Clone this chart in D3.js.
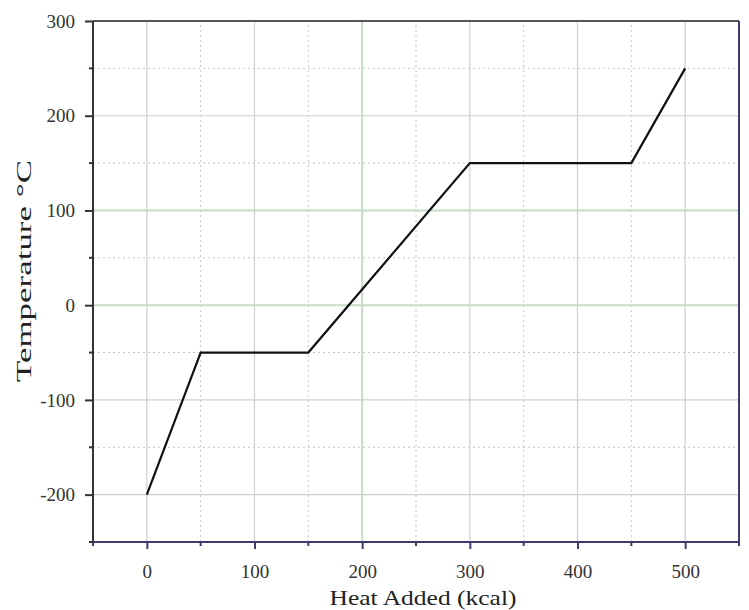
<!DOCTYPE html>
<html><head><meta charset="utf-8">
<script src="https://cdn.jsdelivr.net/npm/d3@7"></script>
<style>body{margin:0;background:#fff;}svg{display:block;}</style>
</head><body>
<script>
const heat = [0, 50, 150, 300, 450, 500];
const temp = [-200, -50, -50, 150, 150, 250];
const xMajor = [0, 100, 200, 300, 400, 500];
const xMinor = [-50, 50, 150, 250, 350, 450, 550];
const yMajor = [-200, -100, 0, 100, 200, 300];
const yMinor = [-250, -150, -50, 50, 150, 250];
const xTitle = "Heat Added (kcal)";
const yTitle = "Temperature °C";

const FONT = "'Liberation Serif','Times New Roman',serif";
const W = 749, H = 610;
const m = {l: 93, r: 10, t: 21, b: 68};
const svg = d3.select("body").append("svg").attr("width", W).attr("height", H).attr("font-family", FONT);
const x = d3.scaleLinear().domain([-50, 550]).range([m.l, W - m.r]);
const y = d3.scaleLinear().domain([-250, 300]).range([H - m.b, m.t]);

const g = svg.append("g");
const greenY = new Set([0, 100]);
const greenX = new Set([200]);
// minor dotted grid
g.selectAll(".vmin").data(xMinor.filter(d => d > -50 && d < 550)).join("line")
  .attr("x1", d => x(d)).attr("x2", d => x(d)).attr("y1", y(-250)).attr("y2", y(300))
  .attr("stroke", d => d === 450 ? "#b8d8b8" : "#c4c4c4").attr("stroke-width", 1).attr("stroke-dasharray", "2,3");
g.selectAll(".hmin").data(yMinor.filter(d => d > -250)).join("line")
  .attr("x1", x(-50)).attr("x2", x(550)).attr("y1", d => y(d)).attr("y2", d => y(d))
  .attr("stroke", d => d === 250 ? "#b8d8b8" : "#c4c4c4").attr("stroke-width", 1).attr("stroke-dasharray", "2,3");
// major grid
g.selectAll(".vmaj").data(xMajor).join("line")
  .attr("x1", d => x(d)).attr("x2", d => x(d)).attr("y1", y(-250)).attr("y2", y(300))
  .attr("stroke", d => greenX.has(d) ? "#c6dcc6" : "#cfcfcf").attr("stroke-width", d => greenX.has(d) ? 2 : 1.2);
g.selectAll(".hmaj").data(yMajor.filter(d => d < 300)).join("line")
  .attr("x1", x(-50)).attr("x2", x(550)).attr("y1", d => y(d)).attr("y2", d => y(d))
  .attr("stroke", d => greenY.has(d) ? "#c6dcc6" : "#cfcfcf").attr("stroke-width", d => greenY.has(d) ? 2 : 1.2);

// data line
const pts = heat.map((h, i) => [h, temp[i]]);
svg.append("path").datum(pts)
  .attr("d", d3.line().x(d => x(d[0])).y(d => y(d[1])))
  .attr("fill", "none").attr("stroke", "#111").attr("stroke-width", 2.2);

// frame
svg.append("line").attr("x1", x(-50)).attr("x2", x(550)).attr("y1", y(300)).attr("y2", y(300)).attr("stroke", "#555").attr("stroke-width", 2);
svg.append("line").attr("x1", x(550)).attr("x2", x(550)).attr("y1", y(300)).attr("y2", y(-250)).attr("stroke", "#3c3c6e").attr("stroke-width", 2);

const fmt = d => String(d);
// axes
const xAxis = d3.axisBottom(x).tickValues(xMajor).tickSize(7).tickPadding(16).tickFormat(fmt);
const xAx = svg.append("g").attr("transform", `translate(0,${y(-250)})`).call(xAxis).attr("font-family", FONT);
xAx.select(".domain").attr("stroke", "#3c3c6e").attr("stroke-width", 2).attr("d", `M${x(-50)},0H${x(550)}`);
xAx.selectAll(".tick line").attr("stroke", "#3c3c6e").attr("stroke-width", 2);
xAx.selectAll("text").attr("font-size", 19).attr("fill", "#333");
svg.append("g").selectAll("line").data(xMinor).join("line")
  .attr("x1", d => x(d)).attr("x2", d => x(d)).attr("y1", y(-250)).attr("y2", y(-250) + 4)
  .attr("stroke", "#3c3c6e").attr("stroke-width", 2);

const yAxis = d3.axisLeft(y).tickValues(yMajor).tickSize(8).tickPadding(10).tickFormat(fmt);
const yAx = svg.append("g").attr("transform", `translate(${x(-50)},0)`).call(yAxis).attr("font-family", FONT);
yAx.select(".domain").attr("stroke", "#333").attr("stroke-width", 2).attr("d", `M0,${y(-250)}V${y(300)}`);
yAx.selectAll(".tick line").attr("stroke", "#333").attr("stroke-width", 2);
yAx.selectAll("text").attr("font-size", 19).attr("fill", "#333");
svg.append("g").selectAll("line").data(yMinor).join("line")
  .attr("x1", x(-50) - 4).attr("x2", x(-50)).attr("y1", d => y(d)).attr("y2", d => y(d))
  .attr("stroke", "#333").attr("stroke-width", 2);

// titles
svg.append("text").attr("x", 423).attr("y", 605)
  .attr("text-anchor", "middle").attr("font-size", 22).attr("fill", "#222")
  .attr("textLength", 187).attr("lengthAdjust", "spacingAndGlyphs").text(xTitle);
svg.append("text").attr("transform", `translate(31,271) rotate(-90)`)
  .attr("text-anchor", "middle").attr("font-size", 22).attr("fill", "#222")
  .attr("textLength", 222).attr("lengthAdjust", "spacingAndGlyphs").text(yTitle);
</script>
</body></html>
